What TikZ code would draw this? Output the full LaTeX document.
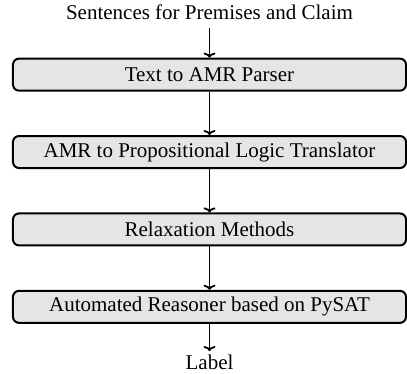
\documentclass[tikz,border=0pt]{standalone}
\usepackage{fontspec}
\setmainfont{Liberation Serif}
\usetikzlibrary{arrows,arrows.meta,positioning}
\tikzset{
    stage/.style = {draw, line width=1pt, rounded corners=3pt, fill=gray!20, minimum width=196.5pt, minimum height=16pt, inner sep=0pt},
    io/.style = {inner sep=0pt, text height=1.5ex, text depth=.25ex},
    flow/.style = {-{To[length=2.5pt,width=6pt]}, line width=0.9pt}
}

\begin{document}
\begin{tikzpicture}[node distance=21.7pt, font=\fontsize{10.5}{12}\selectfont]
        \useasboundingbox (-104.75pt,7pt) rectangle (98.75pt,-180pt);
        \node[io] (in) at (0,0) {Sentences for Premises and Claim};
        \node[stage, below=17.6pt of in] (parser) {Text to AMR Parser};
        \node[stage, below=of parser] (trans) {AMR to Propositional Logic Translator};
        \node[stage, below=of trans] (relax) {Relaxation Methods};
        \node[stage, below=of relax] (solver) {Automated Reasoner based on PySAT};
        \node[io, below=15.6pt of solver] (out) {Label};
        \draw[flow, shorten <=3pt] (in) -- (parser);
        \draw[flow] (parser) -- (trans);
        \draw[flow] (trans) -- (relax);
        \draw[flow] (relax) -- (solver);
        \draw[flow, shorten >=2pt] (solver) -- (out);
\end{tikzpicture}
\end{document}
